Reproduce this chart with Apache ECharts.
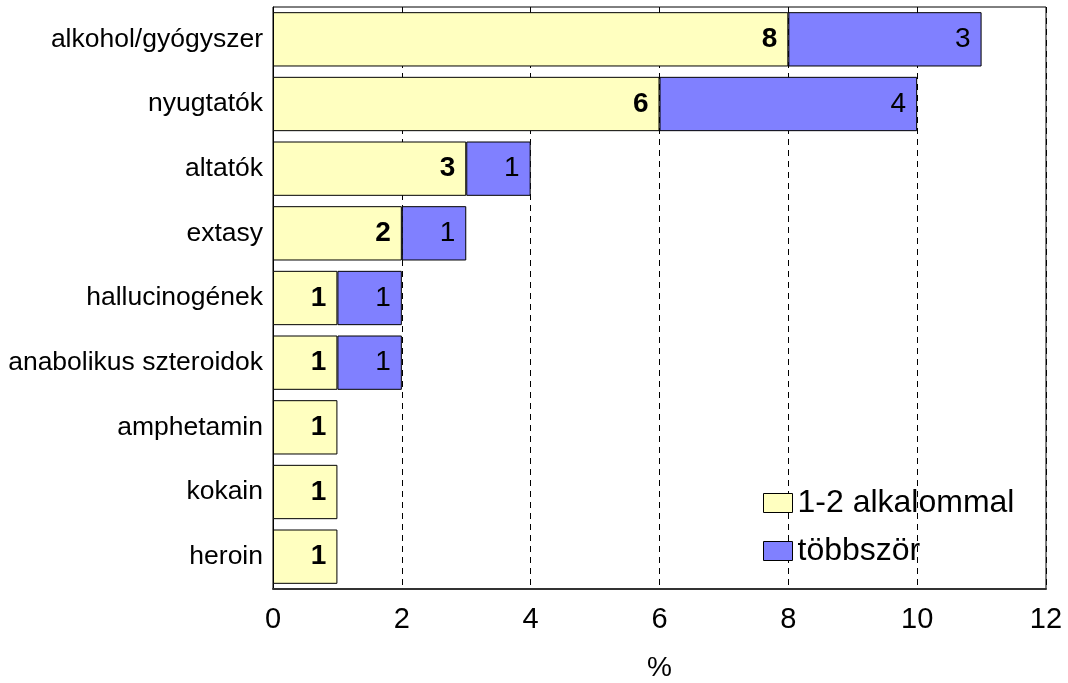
<!DOCTYPE html>
<html>
<head>
<meta charset="utf-8">
<script src="https://cdn.jsdelivr.net/npm/echarts@6/dist/echarts.min.js"></script>
<style>
  html, body { margin: 0; padding: 0; background: #fff; }
  #chart { width: 1068px; height: 683px; }
</style>
</head>
<body>
<div id="chart"></div>
<script>
// Substances, top to bottom
const categories = ['alkohol/gyógyszer', 'nyugtatók', 'altatók', 'extasy', 'hallucinogének',
  'anabolikus szteroidok', 'amphetamin', 'kokain', 'heroin'];
// Share of respondents (%) who used it once or twice
const onceOrTwice = [8, 6, 3, 2, 1, 1, 1, 1, 1];
// Share of respondents (%) who used it several times
const severalTimes = [3, 4, 1, 1, 1, 1, null, null, null];
const xTicks = [0, 2, 4, 6, 8, 10, 12];

const FONT = '"Liberation Sans", Arial, sans-serif';
const chart = echarts.init(document.getElementById('chart'), null, { renderer: 'canvas' });

chart.setOption({
  animation: false,
  textStyle: { fontFamily: FONT, color: '#000' },
  grid: {
    left: 273, right: 22, top: 7, bottom: 94,
    outerBoundsMode: 'none',
    containLabel: false,
    show: true, borderColor: '#000', borderWidth: 1, backgroundColor: 'transparent'
  },
  legend: {
    orient: 'vertical',
    left: 763, top: 487, padding: 0,
    icon: 'rect',
    itemWidth: 29, itemHeight: 19, itemGap: 16,
    textStyle: { fontFamily: FONT, fontSize: 32, color: '#000', lineHeight: 32 },
    data: [
      { name: '1-2 alkalommal', itemStyle: { color: '#FFFFC0', borderColor: '#000', borderWidth: 1 } },
      { name: 'többször', itemStyle: { color: '#8080FF', borderColor: '#000', borderWidth: 1 } }
    ]
  },
  xAxis: {
    type: 'value',
    min: xTicks[0], max: xTicks[xTicks.length - 1], interval: 2,
    name: '%', nameLocation: 'middle', nameGap: 65,
    nameTextStyle: { fontFamily: FONT, fontSize: 28, color: '#000' },
    axisLine: { show: true, lineStyle: { color: '#333', width: 2 } },
    axisTick: { show: false },
    axisLabel: { fontFamily: FONT, fontSize: 29, color: '#000', margin: 16 },
    splitLine: { show: true, lineStyle: { color: '#000', type: [6, 5], width: 1 } }
  },
  yAxis: {
    type: 'category',
    data: categories,
    inverse: true,
    axisLine: { show: true, lineStyle: { color: '#000', width: 1 } },
    axisTick: { show: false },
    axisLabel: { fontFamily: FONT, fontSize: 26.5, color: '#000', margin: 10 },
    splitLine: { show: false }
  },
  series: [
    {
      name: '1-2 alkalommal', type: 'bar', stack: 'total',
      data: onceOrTwice,
      barCategoryGap: '16%',
      itemStyle: { color: '#FFFFC0', borderColor: '#000', borderWidth: 1 },
      label: {
        show: true, position: 'insideRight', distance: 11,
        fontFamily: FONT, fontSize: 28, fontWeight: 'bold', color: '#000'
      }
    },
    {
      name: 'többször', type: 'bar', stack: 'total',
      data: severalTimes,
      barCategoryGap: '16%',
      itemStyle: { color: '#8080FF', borderColor: '#000', borderWidth: 1 },
      label: {
        show: true, position: 'insideRight', distance: 11,
        fontFamily: FONT, fontSize: 28, color: '#000'
      }
    }
  ]
});
</script>
</body>
</html>
